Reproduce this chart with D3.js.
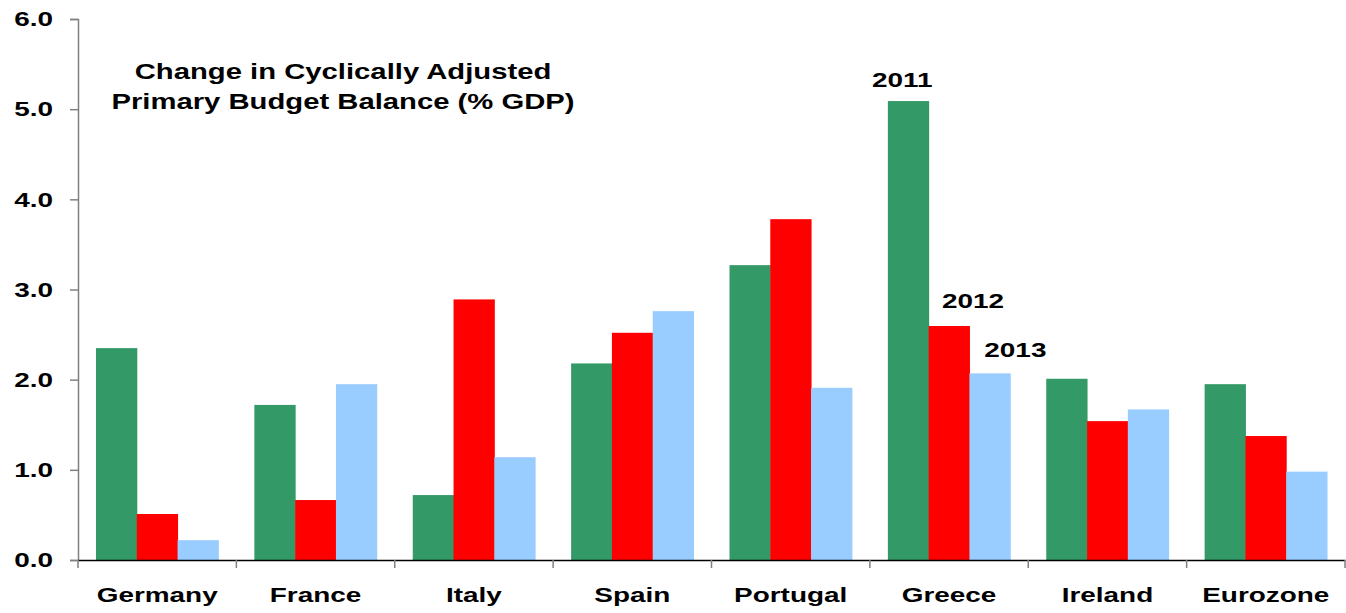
<!DOCTYPE html>
<html><head><meta charset="utf-8">
<script src="https://cdn.jsdelivr.net/npm/d3@7"></script>
<style>html,body{margin:0;padding:0;background:#fff;}svg{display:block;font-family:"Liberation Sans",Arial,sans-serif;}</style>
</head><body>
<svg id="c" width="1346" height="613"></svg>
<script>
const categories = ["Germany","France","Italy","Spain","Portugal","Greece","Ireland","Eurozone"];
const years = ["2011","2012","2013"];
const v2011 = [2.35,1.72,0.72,2.18,3.27,5.09,2.01,1.95];
const v2012 = [0.51,0.665,2.89,2.52,3.78,2.595,1.54,1.375];
const v2013 = [0.22,1.95,1.14,2.76,1.91,2.07,1.67,0.98];
const yTicks = [0,1,2,3,4,5,6];
const colors = ["#339966","#FF0000","#99CCFF"];
const titleLines = ["Change in Cyclically Adjusted","Primary Budget Balance (% GDP)"];

(function(){
const series = [v2011,v2012,v2013];
const svg = d3.select("#c");
const SX = 1.33; // horizontal stretch of text seen in the reference
const FS = 21;
const mLeft = 78, mRight = 1345, mTop = 19, mBottom = 560;
const x = d3.scaleBand().domain(categories).range([mLeft,mRight]).paddingInner(0).paddingOuter(0);
const inner = d3.scaleBand().domain(years).range([18, x.bandwidth()-18]).padding(0);
const y = d3.scaleLinear().domain([0,6]).range([mBottom,mTop]);

categories.forEach((c,i)=>{
  years.forEach((yr,j)=>{
    const val = series[j][i];
    svg.append("rect")
      .attr("x", x(c)+inner(yr))
      .attr("y", y(val))
      .attr("width", inner.bandwidth()+0.5)
      .attr("height", y(0)-y(val))
      .attr("fill", colors[j]);
  });
});

const ya = svg.append("g").attr("transform",`translate(${mLeft},0)`)
  .call(d3.axisLeft(y).tickValues(yTicks).tickFormat(d3.format(".1f")).tickSize(8).tickPadding(10));
ya.select(".domain").attr("stroke","#808080").attr("stroke-width",1.5);
ya.selectAll(".tick line").attr("stroke","#808080").attr("stroke-width",1.5);
ya.selectAll(".tick text").attr("font-size",FS).attr("font-weight","bold").attr("fill","#000")
  .attr("font-family","Liberation Sans, Arial, sans-serif")
  .attr("x", -25/SX).attr("transform",`scale(${SX},1)`);

const xa = svg.append("g").attr("transform",`translate(0,${mBottom})`)
  .call(d3.axisBottom(x).tickSize(0).tickPadding(27));
xa.select(".domain").attr("stroke","#000").attr("stroke-width",1.5);
xa.selectAll(".tick text").attr("font-size",FS).attr("font-weight","bold").attr("fill","#000")
  .attr("font-family","Liberation Sans, Arial, sans-serif")
  .attr("transform",`scale(${SX},1)`);
const seps = categories.map(c=>x(c)).concat([x(categories[categories.length-1])+x.bandwidth()]);
svg.selectAll(".sep").data(seps).enter().append("line")
  .attr("x1",d=>d).attr("x2",d=>d).attr("y1",mBottom).attr("y2",mBottom+8)
  .attr("stroke","#808080").attr("stroke-width",1.5);

const tcx = 343;
svg.append("g").attr("transform",`translate(${tcx},0) scale(${SX},1)`)
  .append("text").attr("x",0).attr("y",79).attr("text-anchor","middle")
  .attr("font-size",22).attr("font-weight","bold")
  .selectAll("tspan").data(titleLines).enter().append("tspan")
  .attr("x",0).attr("dy",(d,i)=>i===0?0:30).text(d=>d);

const gi = categories.indexOf("Greece");
const labOff = [[-6,-14],[24,-18],[25.5,-16]];
years.forEach((yr,j)=>{
  const cx = x("Greece")+inner(yr)+inner.bandwidth()/2 + labOff[j][0];
  svg.append("g").attr("transform",`translate(${cx},${y(series[j][gi])+labOff[j][1]}) scale(${SX},1)`)
    .append("text").attr("x",0).attr("y",0)
    .attr("text-anchor","middle").attr("font-size",FS).attr("font-weight","bold").text(yr);
});
})();
</script>
</body></html>
